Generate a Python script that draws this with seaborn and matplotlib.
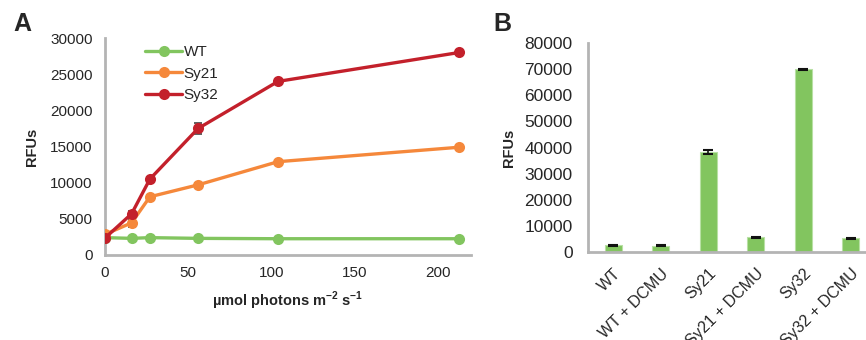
import numpy as np
import pandas as pd
import matplotlib
matplotlib.use("Agg")
import matplotlib.pyplot as plt
import seaborn as sns

sns.set_style("white")
plt.rcParams['font.family'] = ['Liberation Sans', 'DejaVu Sans']

# Panel A data
light = [0, 16, 27, 56, 104, 213]
wt = [2400, 2300, 2400, 2300, 2250, 2250]
sy21 = [2850, 4450, 8050, 9700, 12900, 14900]
sy32 = [2350, 5700, 10500, 17500, 24000, 28000]
wt_err = [100, 100, 100, 100, 100, 100]
sy21_err = [150, 550, 250, 200, 150, 150]
sy32_err = [150, 400, 300, 800, 200, 300]
strains = ["WT", "Sy21", "Sy32"]

# Panel B data
conditions = ["WT", "WT + DCMU", "Sy21", "Sy21 + DCMU", "Sy32", "Sy32 + DCMU"]
rfu_b = [2550, 2350, 38300, 5600, 69900, 5300]
rfu_b_err = [200, 200, 900, 200, 150, 250]

colors = {"WT": "#82c55f", "Sy21": "#f5883b", "Sy32": "#c3202b"}
axis_gray = "#b4b4b4"
text_col = "#262626"

fig = plt.figure(figsize=(8.66, 3.4), dpi=100)
axA = fig.add_axes([105/866, 1-255/340, (471-105)/866, (255-38)/340])
axB = fig.add_axes([588/866, 1-252/340, (865-588)/866, (252-43)/340])

dfA = pd.DataFrame({
    "light": light * 3,
    "rfu": wt + sy21 + sy32,
    "err": wt_err + sy21_err + sy32_err,
    "strain": ["WT"] * 6 + ["Sy21"] * 6 + ["Sy32"] * 6,
})
for s in strains:
    d = dfA[dfA.strain == s]
    axA.errorbar(d.light, d.rfu, yerr=d.err, fmt="none", ecolor="#444444",
                 elinewidth=1.2, capsize=3, capthick=1.2, zorder=2)
sns.lineplot(data=dfA, x="light", y="rfu", hue="strain", hue_order=strains,
             palette=colors, marker="o", markersize=8, markeredgewidth=0,
             linewidth=2.4, errorbar=None, ax=axA, zorder=3)

axA.set_xlim(0, 220)
axA.set_ylim(0, 30000)
axA.set_xticks([0, 50, 100, 150, 200])
axA.set_yticks(range(0, 30001, 5000))
axA.set_xlabel("µmol photons m$^{\\mathregular{-2}}$ s$^{\\mathregular{-1}}$", fontsize=10.5,
               fontweight="bold", color=text_col, labelpad=7)
axA.set_ylabel("RFUs", fontsize=10.5, fontweight="bold", color=text_col, labelpad=8)
leg = axA.legend(loc="upper left", bbox_to_anchor=(0.085, 1.01), frameon=False,
                 fontsize=11, handlelength=2.4, handletextpad=0.1,
                 labelspacing=0.5, borderaxespad=0.2)
for t in leg.get_texts():
    t.set_color(text_col)

dfB = pd.DataFrame({"cond": conditions, "rfu": rfu_b, "err": rfu_b_err})
sns.barplot(data=dfB, x="cond", y="rfu", color="#82c55f", width=0.36,
            saturation=1, errorbar=None, ax=axB, edgecolor="#b8e0a4", linewidth=0.8)
axB.errorbar(np.arange(len(conditions)), rfu_b, yerr=rfu_b_err, fmt="none",
             ecolor="#111111", elinewidth=1.2, capsize=3.5, capthick=1.5, zorder=4)
axB.set_xlim(-0.53, 5.3)
axB.set_ylim(0, 80000)
axB.set_yticks(range(0, 80001, 10000))
axB.set_xlabel("")
axB.set_ylabel("RFUs", fontsize=10.5, fontweight="bold", color=text_col, labelpad=6)
axB.set_xticks(range(len(conditions)))
axB.set_xticklabels(conditions, rotation=45, ha="right", rotation_mode="anchor")

for ax in (axA, axB):
    for side in ("top", "right"):
        ax.spines[side].set_visible(False)
    for side in ("left", "bottom"):
        ax.spines[side].set_color(axis_gray)
        ax.spines[side].set_linewidth(2)
    ax.tick_params(labelcolor=text_col, colors=axis_gray)

axA.tick_params(axis="both", direction="in", length=4, width=1.5, labelsize=11)
axA.tick_params(axis="y", pad=9)
axA.tick_params(axis="x", pad=8)
axB.tick_params(axis="y", length=0, pad=11, labelsize=12.5)
axB.tick_params(axis="x", length=0, pad=10, labelsize=11.5)
for lbl in axA.get_xticklabels() + axA.get_yticklabels() + axB.get_xticklabels() + axB.get_yticklabels():
    lbl.set_color(text_col)

fig.text(13/866, 1-24/340, "A", fontsize=18, fontweight="bold", color=text_col, va="center")
fig.text(493/866, 1-24/340, "B", fontsize=18, fontweight="bold", color=text_col, va="center")

fig.savefig("out.png", dpi=100)
